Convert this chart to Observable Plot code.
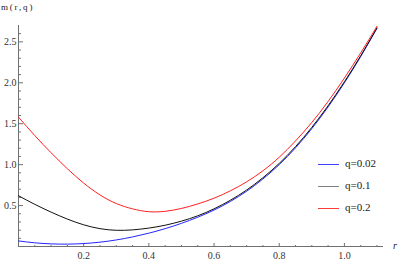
<!DOCTYPE html>
<html><head><meta charset="utf-8">
<script src="https://cdn.jsdelivr.net/npm/d3@7"></script>
<script src="https://cdn.jsdelivr.net/npm/@observablehq/plot@0.6"></script>
<style>
html,body{margin:0;padding:0;background:#fff;}
#wrap{position:relative;width:399px;height:262px;font-family:"Liberation Serif","Times New Roman",serif;color:#222;}
#wrap svg{position:absolute;left:0;top:0;}
.lab{position:absolute;white-space:nowrap;line-height:1;}
.sw{position:absolute;height:1px;}
</style></head><body>
<div id="wrap"></div>
<script>
// r values (x axis)
const rValues = [0,0.05,0.1,0.15,0.2,0.25,0.3,0.35,0.4,0.45,0.5,0.55,0.6,0.65,0.7,0.75,0.8,0.85,0.9,0.95,1.0,1.05,1.1];
// m(r,q) for each q
const mQ002 = [0.068,0.045,0.032,0.029,0.036,0.053,0.08,0.117,0.163,0.218,0.283,0.358,0.445,0.55,0.675,0.825,1.0,1.205,1.44,1.705,2.0,2.32,2.665];
const mQ01  = [0.62,0.515,0.42,0.335,0.265,0.218,0.198,0.203,0.225,0.26,0.31,0.375,0.46,0.565,0.69,0.84,1.015,1.22,1.455,1.72,2.012,2.33,2.672];
const mQ02  = [1.58,1.355,1.145,0.95,0.775,0.63,0.525,0.46,0.425,0.43,0.465,0.52,0.59,0.68,0.79,0.925,1.09,1.29,1.515,1.772,2.058,2.365,2.69];
const seriesNames = ["q=0.02","q=0.1","q=0.2"];
const seriesColors = ["#2424ff","#111111","#ff2020"];
const legendColors = ["#4040ff","#808080","#ff3a3a"];
// ticks
const xMajor = [0.2,0.4,0.6,0.8,1.0];
const xMinor = [0.05,0.1,0.15,0.25,0.3,0.35,0.45,0.5,0.55,0.65,0.7,0.75,0.85,0.9,0.95,1.05,1.1];
const yMajor = [0.5,1.0,1.5,2.0,2.5];
const yMinor = [0.1,0.2,0.3,0.4,0.6,0.7,0.8,0.9,1.1,1.2,1.3,1.4,1.6,1.7,1.8,1.9,2.1,2.2,2.3,2.4,2.6];
const yLabel = "m(r,q)";
const xLabel = "r";

const allSeries = [mQ002, mQ01, mQ02];
const rows = [];
allSeries.forEach((vals, i) => vals.forEach((m, j) => rows.push({r: rValues[j], m, q: seriesNames[i]})));

const serif = "'Liberation Serif','Times New Roman',serif";
const fmt = d3.format(".1f");
const axisColor = "#707070";
const chart = Plot.plot({
  width: 399, height: 262,
  marginLeft: 18, marginRight: 16, marginTop: 25, marginBottom: 16,
  style: {fontFamily: serif, fontSize: "10px", background: "white", color: "#222"},
  x: {domain: [0, 1.12], axis: null},
  y: {domain: [0, 2.70], axis: null},
  color: {domain: seriesNames, range: seriesColors},
  marks: [
    Plot.ruleY([0], {stroke: axisColor}),
    Plot.ruleX([0], {stroke: axisColor}),
    Plot.axisX({ticks: xMinor, anchor: "top", frameAnchor: "bottom", tickSize: 2, fill: "none", stroke: axisColor, label: null}),
    Plot.axisX({ticks: xMajor, anchor: "top", frameAnchor: "bottom", tickSize: 4, fill: "none", stroke: axisColor, label: null}),
    Plot.axisX({ticks: xMajor, anchor: "bottom", tickSize: 0, tickPadding: 5, tickFormat: fmt, fill: "#333", label: null}),
    Plot.axisY({ticks: yMinor, anchor: "right", frameAnchor: "left", tickSize: 2, fill: "none", stroke: axisColor, label: null}),
    Plot.axisY({ticks: yMajor, anchor: "right", frameAnchor: "left", tickSize: 4, fill: "none", stroke: axisColor, label: null}),
    Plot.axisY({ticks: yMajor, anchor: "left", tickSize: 0, tickPadding: 2, tickFormat: fmt, fill: "#333", label: null}),
    Plot.line(rows, {x: "r", y: "m", z: "q", stroke: "q", curve: "natural", strokeWidth: 1})
  ]
});
const wrap = document.getElementById("wrap");
wrap.appendChild(chart);

function addLabel(text, left, top, css) {
  const d = document.createElement("div");
  d.className = "lab";
  d.textContent = text;
  d.style.left = left + "px";
  d.style.top = top + "px";
  Object.assign(d.style, css || {});
  wrap.appendChild(d);
}
addLabel(yLabel, 1, 3, {fontSize: "9px", letterSpacing: "1.8px"});
addLabel(xLabel, 393, 241, {fontStyle: "italic", fontSize: "10px"});
const legendTops = [164, 186, 208];
seriesNames.forEach((name, i) => {
  const s = document.createElement("div");
  s.className = "sw";
  s.style.left = "318px";
  s.style.width = "21px";
  s.style.top = legendTops[i] + "px";
  s.style.background = legendColors[i];
  wrap.appendChild(s);
  addLabel(name, 345, legendTops[i] - 6, {fontSize: "11px"});
});
</script>
</body></html>
